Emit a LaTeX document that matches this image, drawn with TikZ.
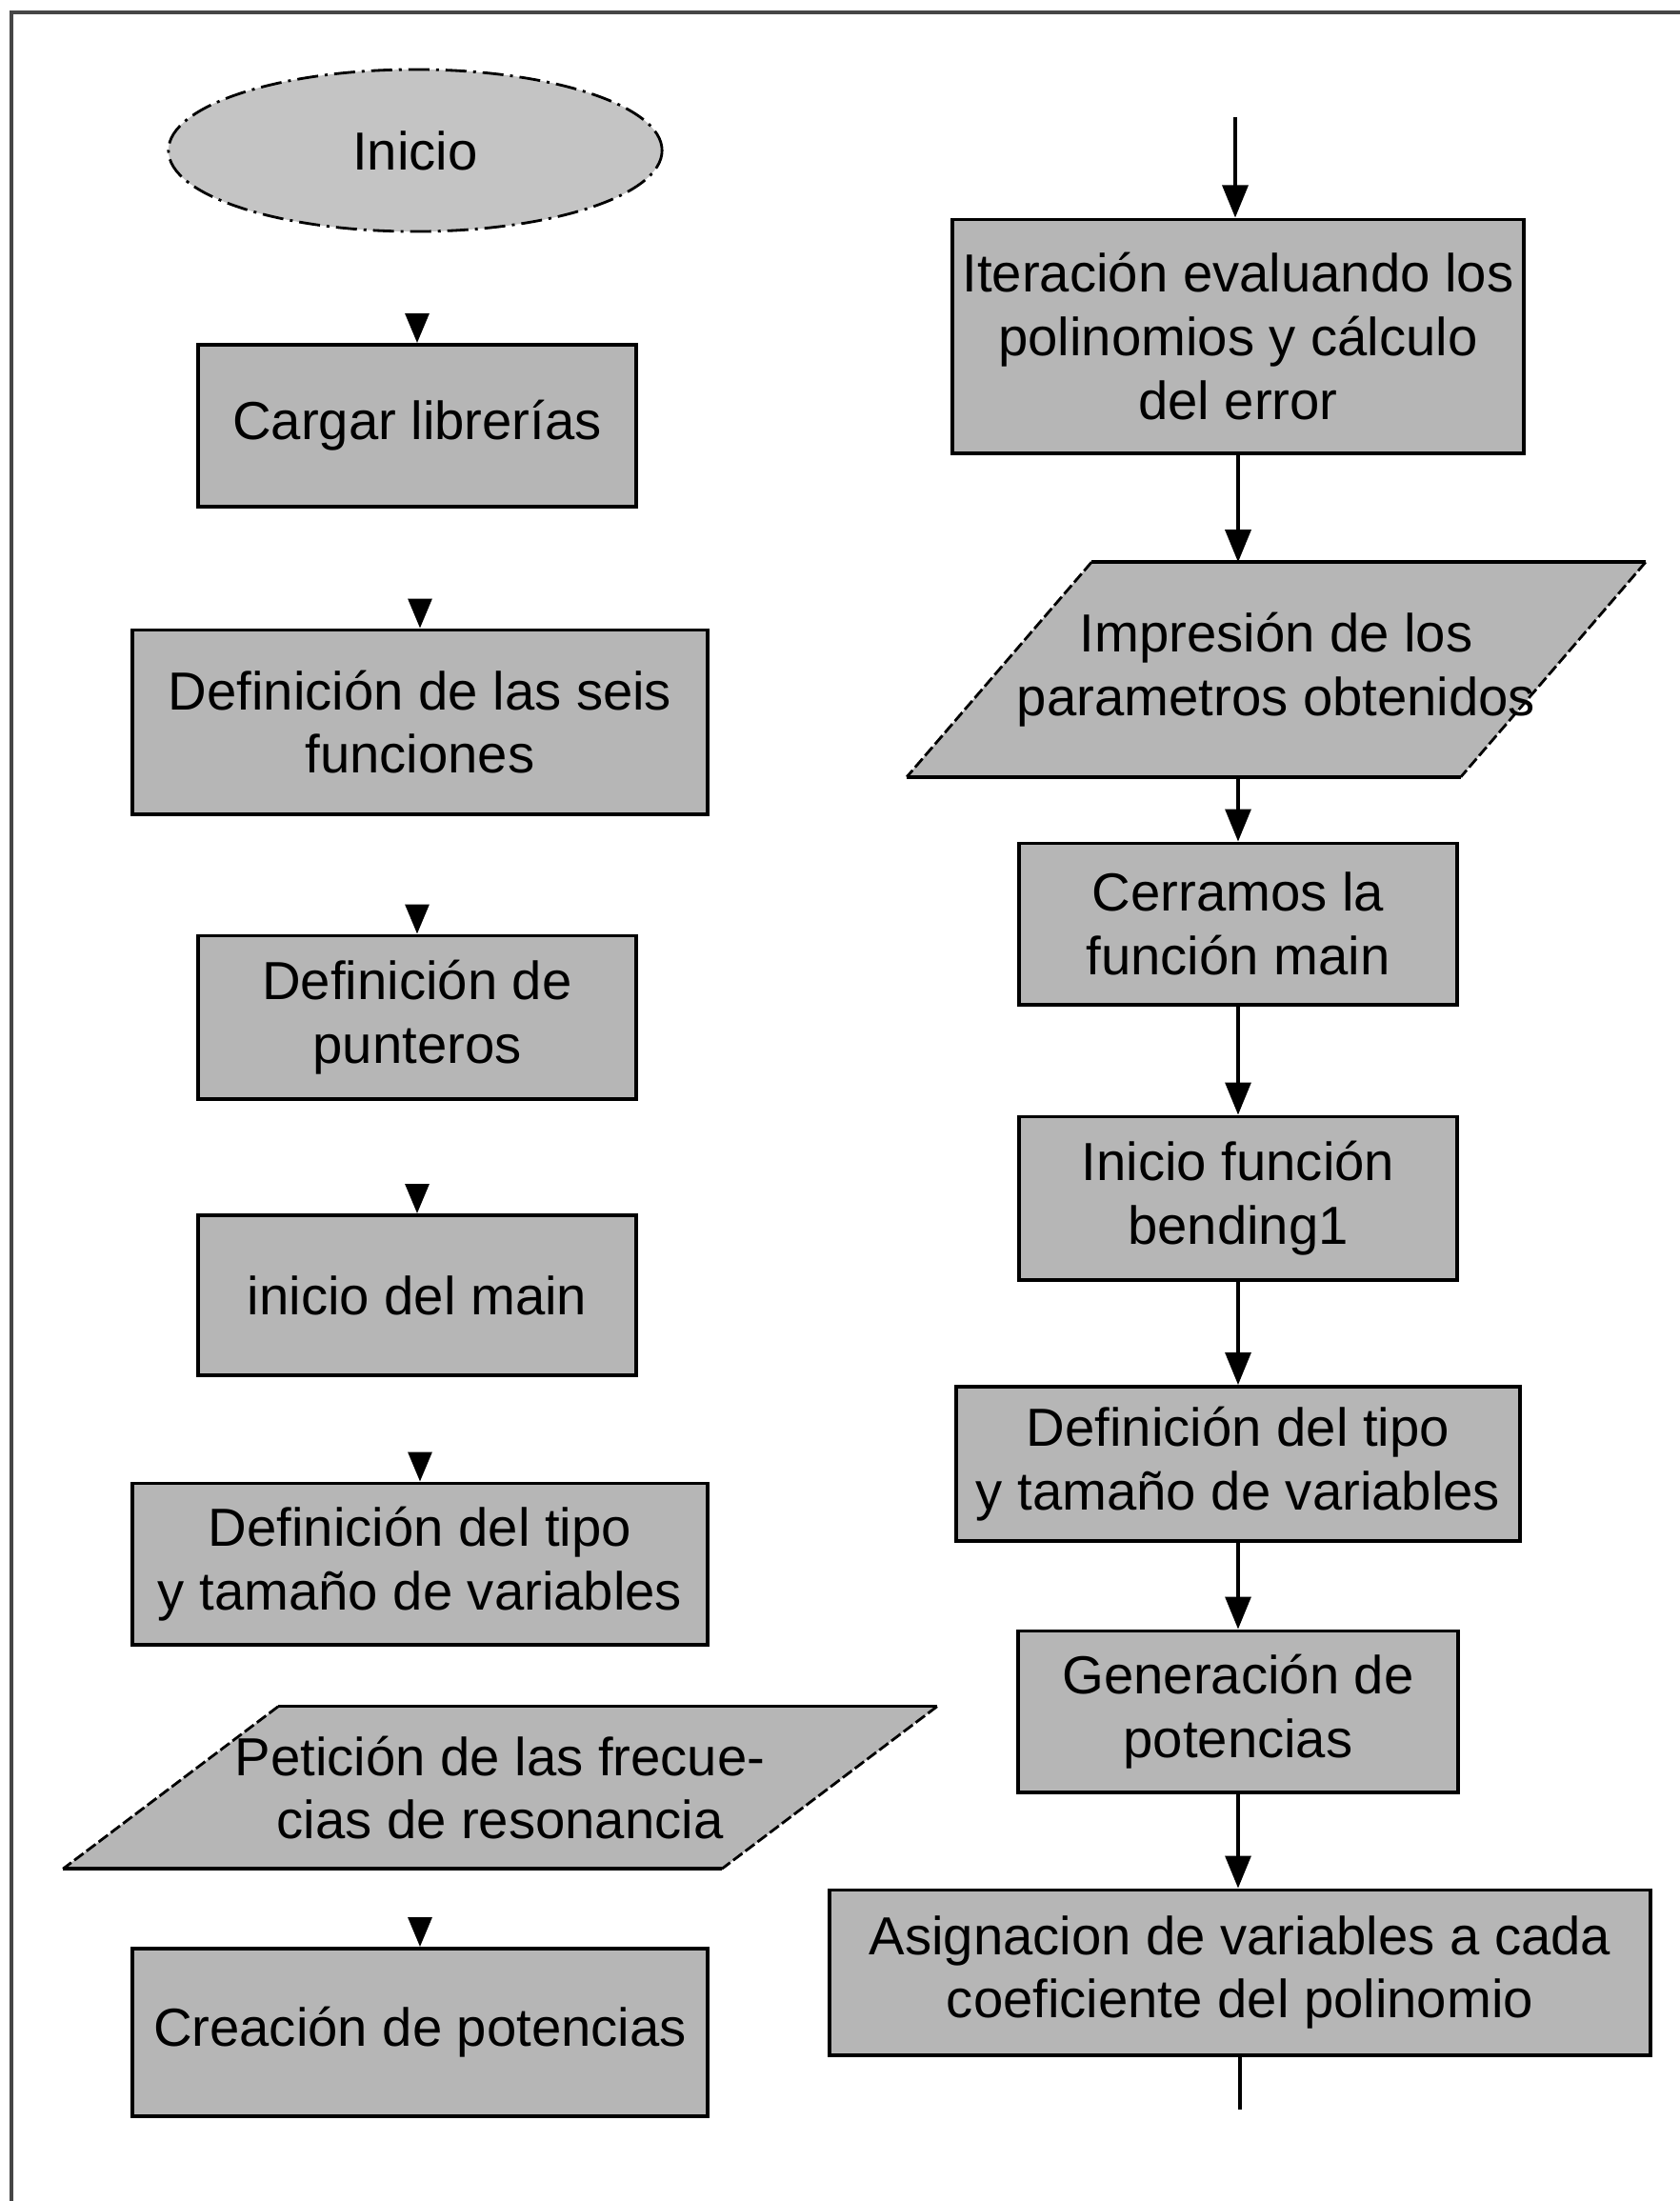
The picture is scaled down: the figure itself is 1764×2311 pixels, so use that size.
\documentclass[tikz,border=0pt]{standalone}
\usepackage{fontspec}
\setmainfont{Liberation Sans}
\usetikzlibrary{shapes.geometric,arrows.meta,calc,backgrounds}
\definecolor{boxgray}{RGB}{182,182,182}
\definecolor{ovalgray}{RGB}{196,196,196}
\definecolor{framegray}{RGB}{70,70,70}
\begin{document}
\begin{tikzpicture}[x=0.01cm,y=-0.01cm,
  txt/.style={align=center, inner sep=0pt, font=\fontsize{16}{19}\selectfont},
  box/.style={txt, rectangle, draw=black, line width=1.1pt, fill=boxgray},
  startshape/.style={txt, ellipse, draw=black, line width=0.8pt,
     dash pattern=on 0.22cm off 0.07cm on 0.03cm off 0.07cm, fill=ovalgray},
  pgram/.style={txt, rectangle, draw=none},
  arr/.style={line width=0.9pt, -{Triangle[length=0.34cm,width=0.27cm]}},
  tipL/.style={line width=0.9pt, -{Triangle[length=0.31cm,width=0.25cm]}, shorten <=#1},
  pedge/.style={line width=1.1pt},
  pslant/.style={line width=0.8pt, dash pattern=on 0.12cm off 0.04cm}
]
\useasboundingbox (0,0) rectangle (1764,2311);
% frame
\draw[framegray, line width=1pt] (12,2311) -- (12,13) -- (1764,13);

% ---------- left column ----------
\node[startshape, minimum width=5.18cm, minimum height=1.70cm] (inicio) at (436,158) {Inicio};
\node[box, minimum width=4.60cm, minimum height=1.70cm] (cargar) at (438,447) {Cargar librerías};
\node[box, minimum width=6.03cm, minimum height=1.93cm] (seis) at (441,758) {Definición de las seis\\funciones};
\node[box, minimum width=4.60cm, minimum height=1.71cm] (punt) at (438,1068) {Definición de\\punteros};
\node[box, minimum width=4.60cm, minimum height=1.68cm] (mainn) at (438,1360) {inicio del main};
\node[box, minimum width=6.03cm, minimum height=1.69cm] (tipoL) at (441,1642) {Definición del tipo\\y tamaño de variables};
\node[pgram, minimum width=6.90cm, minimum height=1.69cm] (petic) at (525,1877) {Petición de las frecue-\\cias de resonancia};
\node[box, minimum width=6.03cm, minimum height=1.76cm] (creac) at (441,2134) {Creación de potencias};

% parallelogram Petición
\begin{scope}[on background layer]
\fill[boxgray] ($(petic.north west)+(113,0)$) -- ($(petic.north east)+(113,0)$) -- ($(petic.south east)+(-113,0)$) -- ($(petic.south west)+(-113,0)$) -- cycle;
\end{scope}
\draw[pedge, line width=0.8pt] ($(petic.north west)+(113,0)$) -- ($(petic.north east)+(113,0)$);
\draw[pedge] ($(petic.south west)+(-113,0)$) -- ($(petic.south east)+(-113,0)$);
\draw[pslant] ($(petic.north west)+(113,0)$) -- ($(petic.south west)+(-113,0)$);
\draw[pslant] ($(petic.north east)+(113,0)$) -- ($(petic.south east)+(-113,0)$);

% left arrowheads (lines faded away)
\draw[tipL=0.88cm] (cargar.north |- inicio.south) -- (cargar.north);
\draw[tipL=0.99cm] (seis.north |- cargar.south) -- (seis.north);
\draw[tipL=0.97cm] (punt.north |- seis.south) -- (punt.north);
\draw[tipL=0.91cm] (mainn.north |- punt.south) -- (mainn.north);
\draw[tipL=0.83cm] (tipoL.north |- mainn.south) -- (tipoL.north);
\draw[tipL=0.53cm] (creac.north |- petic.south) -- (creac.north);

% ---------- right column ----------
\coordinate (entry) at (1297,123);
\node[box, minimum width=5.99cm, minimum height=2.45cm] (iter) at (1300,353) {Iteración evaluando los\\polinomios y cálculo\\del error};
\node[pgram, minimum width=5.80cm, minimum height=2.24cm] (impr) at (1340,703) {Impresión de los\\parametros obtenidos};
\node[box, minimum width=4.59cm, minimum height=1.69cm] (cerr) at (1300,970) {Cerramos la\\función main};
\node[box, minimum width=4.59cm, minimum height=1.71cm] (bend) at (1300,1258) {Inicio función\\bending1};
\node[box, minimum width=5.91cm, minimum height=1.62cm] (tipoR) at (1300,1537) {Definición del tipo\\y tamaño de variables};
\node[box, minimum width=4.61cm, minimum height=1.69cm] (gener) at (1300,1797) {Generación de\\potencias};
\node[box, minimum width=8.61cm, minimum height=1.73cm] (asig) at (1302,2071) {Asignacion de variables a cada\\coeficiente del polinomio};
\coordinate (tail) at (1302,2215);

% parallelogram Impresión
\begin{scope}[on background layer]
\fill[boxgray] ($(impr.north west)+(97,0)$) -- ($(impr.north east)+(97,0)$) -- ($(impr.south east)+(-97,0)$) -- ($(impr.south west)+(-97,0)$) -- cycle;
\end{scope}
\draw[pedge] ($(impr.north west)+(97,0)$) -- ($(impr.north east)+(97,0)$);
\draw[pedge] ($(impr.south west)+(-97,0)$) -- ($(impr.south east)+(-97,0)$);
\draw[pslant] ($(impr.north west)+(97,0)$) -- ($(impr.south west)+(-97,0)$);
\draw[pslant] ($(impr.north east)+(97,0)$) -- ($(impr.south east)+(-97,0)$);

% right connectors
\draw[arr] (entry) -- (entry |- iter.north);
\draw[arr] (iter.south) -- (iter.south |- impr.north);
\draw[arr] (cerr.north |- impr.south) -- (cerr.north);
\draw[arr] (cerr.south) -- (bend.north);
\draw[arr] (bend.south) -- (tipoR.north);
\draw[arr] (tipoR.south) -- (gener.north);
\draw[arr] (gener.south) -- (gener.south |- asig.north);
\draw[line width=0.9pt] (asig.south -| tail) -- (tail);
\end{tikzpicture}
\end{document}
